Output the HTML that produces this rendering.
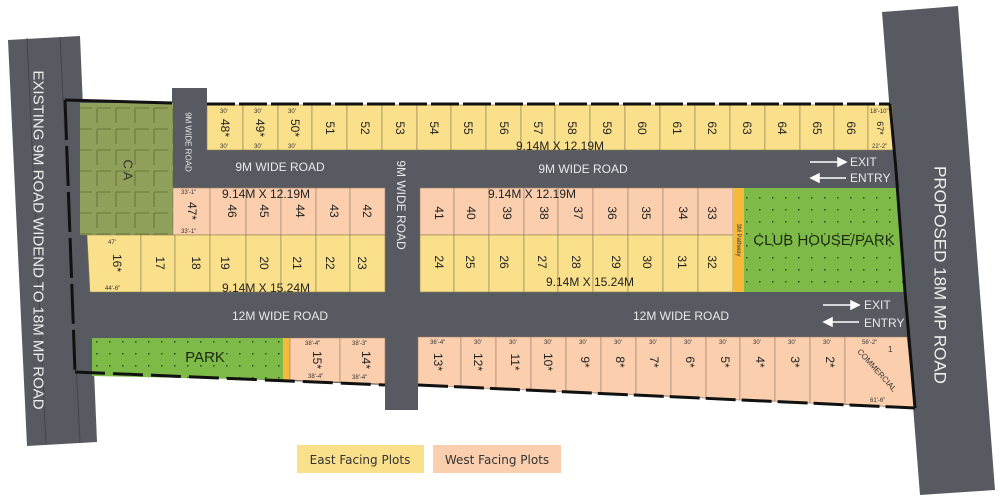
<!DOCTYPE html>
<html><head><meta charset="utf-8"><style>
html,body{margin:0;padding:0;background:#fff;width:1000px;height:500px;overflow:hidden}
svg{display:block}
text{font-family:"Liberation Sans",sans-serif}
.n{font-size:12px;fill:#222}
.r{font-size:12px;fill:#e8e8ea}
.d{font-size:6px;fill:#333}
</style></head><body>
<svg width="1000" height="500" viewBox="0 0 1000 500" xmlns="http://www.w3.org/2000/svg">
<defs>
<pattern id="dots" width="13" height="12" patternUnits="userSpaceOnUse"><rect width="13" height="12" fill="#7dba48"/><rect x="5" y="5" width="1.5" height="1.5" fill="#2f4a1a"/></pattern>
<pattern id="grid" width="19" height="21" patternUnits="userSpaceOnUse"><rect width="19" height="21" fill="#8fa05a"/><path d="M2 3 V18 M2 3 H16" stroke="#6f7f42" stroke-width="1.3" fill="none"/></pattern>
</defs>
<polygon points="8,40 80,36 97,442 27,446" fill="#575b61"/>
<line x1="27" y1="38" x2="46" y2="444" stroke="#3e4146" stroke-width="0.8"/>
<line x1="60" y1="37" x2="80" y2="443" stroke="#3e4146" stroke-width="0.8"/>
<text transform="translate(38,240) rotate(90)" text-anchor="middle" dominant-baseline="central" style="font-size:15px;fill:#eee">EXISTING 9M ROAD WIDEND TO 18M MP ROAD</text>
<polygon points="882,12 958,6 995,490 920,495" fill="#575b61"/>
<text transform="translate(940,275) rotate(90)" text-anchor="middle" dominant-baseline="central" style="font-size:17px;fill:#eee">PROPOSED 18M MP ROAD</text>
<polygon points="63,100 172,103 172,88 207,88 207,105 892,105 915,408 418,385 418,410 385,410 385,385 75,372" fill="#575b61"/>
<rect x="80" y="103" width="93" height="132" fill="url(#grid)"/>
<text x="128" y="170" text-anchor="middle" dominant-baseline="central" transform="rotate(90 128 170)" style="font-size:13px;fill:#333">C A</text>
<g fill="#fbe08c" stroke="#8a7a50" stroke-width="0.6">
<rect x="207" y="105" width="36" height="45"/><rect x="243" y="105" width="35" height="45"/><rect x="278" y="105" width="34" height="45"/><rect x="312" y="105" width="35" height="45"/><rect x="347" y="105" width="35" height="45"/><rect x="382" y="105" width="35" height="45"/><rect x="417" y="105" width="34" height="45"/><rect x="451" y="105" width="35" height="45"/><rect x="486" y="105" width="35" height="45"/><rect x="521" y="105" width="34" height="45"/><rect x="555" y="105" width="35" height="45"/><rect x="590" y="105" width="35" height="45"/><rect x="625" y="105" width="35" height="45"/><rect x="660" y="105" width="35" height="45"/><rect x="695" y="105" width="35" height="45"/><rect x="730" y="105" width="35" height="45"/><rect x="765" y="105" width="35" height="45"/><rect x="800" y="105" width="34" height="45"/><rect x="834" y="105" width="34" height="45"/>
<polygon points="868,105 892,105 895,150 868,150"/>
</g>
<g class="n" text-anchor="middle" dominant-baseline="central">
<text transform="translate(225,128) rotate(90)">48*</text><text transform="translate(260,128) rotate(90)">49*</text><text transform="translate(295,128) rotate(90)">50*</text><text transform="translate(330,128) rotate(90)">51</text><text transform="translate(365,128) rotate(90)">52</text><text transform="translate(400,128) rotate(90)">53</text><text transform="translate(434,128) rotate(90)">54</text><text transform="translate(468,128) rotate(90)">55</text><text transform="translate(504,128) rotate(90)">56</text><text transform="translate(538,128) rotate(90)">57</text><text transform="translate(572,128) rotate(90)">58</text><text transform="translate(607,128) rotate(90)">59</text><text transform="translate(642,128) rotate(90)">60</text><text transform="translate(677,128) rotate(90)">61</text><text transform="translate(712,128) rotate(90)">62</text><text transform="translate(747,128) rotate(90)">63</text><text transform="translate(782,128) rotate(90)">64</text><text transform="translate(817,128) rotate(90)">65</text><text transform="translate(851,128) rotate(90)">66</text><text transform="translate(880,128) rotate(90)" style="font-size:9px">67*</text>
</g>
<text x="560" y="150" text-anchor="middle" style="font-size:12px;fill:#222">9.14M X 12.19M</text>
<g class="d"><text x="220" y="113">30'</text><text x="254" y="113">30'</text><text x="288" y="113">30'</text><text x="220" y="148">30'</text><text x="254" y="148">30'</text><text x="288" y="148">30'</text><text x="870" y="113">18'-10"</text><text x="872" y="148">22'-2"</text></g>
<text x="280" y="171" class="r" text-anchor="middle">9M WIDE ROAD</text>
<text x="583" y="173" class="r" text-anchor="middle">9M WIDE ROAD</text>
<text transform="translate(188,142) rotate(90)" text-anchor="middle" dominant-baseline="central" style="font-size:8px;fill:#e8e8ea">9M WIDE ROAD</text>
<text transform="translate(401,205) rotate(90)" text-anchor="middle" dominant-baseline="central" class="r">9M WIDE ROAD</text>
<text x="280" y="320" class="r" text-anchor="middle">12M WIDE ROAD</text>
<text x="681" y="320" class="r" text-anchor="middle">12M WIDE ROAD</text>
<g stroke="#fff" stroke-width="1.5" fill="#fff">
<line x1="810" y1="162" x2="840" y2="162"/><polygon points="838,158 846,162 838,166"/>
<line x1="817" y1="178" x2="846" y2="178"/><polygon points="819,174 811,178 819,182"/>
<line x1="823" y1="305" x2="853" y2="305"/><polygon points="851,301 859,305 851,309"/>
<line x1="830" y1="322" x2="859" y2="322"/><polygon points="832,318 824,322 832,326"/>
</g>
<g class="r"><text x="850" y="166">EXIT</text><text x="850" y="182">ENTRY</text><text x="864" y="309">EXIT</text><text x="864" y="327">ENTRY</text></g>
<g fill="#fbcfad" stroke="#9a7a66" stroke-width="0.6">
<rect x="173" y="188" width="37" height="47"/><rect x="210" y="188" width="36" height="47"/><rect x="246" y="188" width="35" height="47"/><rect x="281" y="188" width="35" height="47"/><rect x="316" y="188" width="34" height="47"/><rect x="350" y="188" width="35" height="47"/>
</g>
<g fill="#fbe08c" stroke="#8a7a50" stroke-width="0.6">
<polygon points="87,235 141,235 141,292 90,292"/><rect x="141" y="235" width="34" height="57"/><rect x="175" y="235" width="35" height="57"/><rect x="210" y="235" width="36" height="57"/><rect x="246" y="235" width="35" height="57"/><rect x="281" y="235" width="35" height="57"/><rect x="316" y="235" width="34" height="57"/><rect x="350" y="235" width="35" height="57"/>
</g>
<g class="n" text-anchor="middle" dominant-baseline="central">
<text transform="translate(192,211) rotate(90)">47*</text><text transform="translate(232,211) rotate(90)">46</text><text transform="translate(264,211) rotate(90)">45</text><text transform="translate(300,211) rotate(90)">44</text><text transform="translate(334,211) rotate(90)">43</text><text transform="translate(367,211) rotate(90)">42</text>
<text transform="translate(117,263) rotate(90)">16*</text><text transform="translate(160,263) rotate(90)">17</text><text transform="translate(196,263) rotate(90)">18</text><text transform="translate(225,263) rotate(90)">19</text><text transform="translate(264,263) rotate(90)">20</text><text transform="translate(297,263) rotate(90)">21</text><text transform="translate(330,263) rotate(90)">22</text><text transform="translate(362,263) rotate(90)">23</text>
</g>
<text x="266" y="198" text-anchor="middle" style="font-size:12px;fill:#222">9.14M X 12.19M</text>
<text x="266" y="292" text-anchor="middle" style="font-size:12px;fill:#222">9.14M X 15.24M</text>
<g class="d"><text x="181" y="194">33'-1"</text><text x="181" y="233">33'-1"</text><text x="108" y="244">47'</text><text x="105" y="290">44'-6"</text></g>
<g fill="#fbcfad" stroke="#9a7a66" stroke-width="0.6">
<rect x="420" y="188" width="34" height="47"/><rect x="454" y="188" width="35" height="47"/><rect x="489" y="188" width="35" height="47"/><rect x="524" y="188" width="34" height="47"/><rect x="558" y="188" width="35" height="47"/><rect x="593" y="188" width="35" height="47"/><rect x="628" y="188" width="35" height="47"/><rect x="663" y="188" width="35" height="47"/><rect x="698" y="188" width="35" height="47"/>
</g>
<g fill="#fbe08c" stroke="#8a7a50" stroke-width="0.6">
<rect x="420" y="235" width="34" height="57"/><rect x="454" y="235" width="35" height="57"/><rect x="489" y="235" width="35" height="57"/><rect x="524" y="235" width="34" height="57"/><rect x="558" y="235" width="35" height="57"/><rect x="593" y="235" width="35" height="57"/><rect x="628" y="235" width="35" height="57"/><rect x="663" y="235" width="35" height="57"/><rect x="698" y="235" width="35" height="57"/>
</g>
<rect x="733" y="188" width="11" height="104" fill="#f6b93c"/>
<text transform="translate(738,240) rotate(90)" text-anchor="middle" dominant-baseline="central" style="font-size:6px;fill:#333">3M Pathway</text>
<polygon points="744,188 899,188 905,292 744,292" fill="url(#dots)"/>
<text x="824" y="245" text-anchor="middle" style="font-size:15px;fill:#1e2a10">CLUB HOUSE/PARK</text>
<g class="n" text-anchor="middle" dominant-baseline="central">
<text transform="translate(439,213) rotate(90)">41</text><text transform="translate(471,213) rotate(90)">40</text><text transform="translate(507,213) rotate(90)">39</text><text transform="translate(544,213) rotate(90)">38</text><text transform="translate(578,213) rotate(90)">37</text><text transform="translate(612,213) rotate(90)">36</text><text transform="translate(646,213) rotate(90)">35</text><text transform="translate(683,213) rotate(90)">34</text><text transform="translate(712,213) rotate(90)">33</text>
<text transform="translate(439,262) rotate(90)">24</text><text transform="translate(470,262) rotate(90)">25</text><text transform="translate(504,262) rotate(90)">26</text><text transform="translate(542,262) rotate(90)">27</text><text transform="translate(576,262) rotate(90)">28</text><text transform="translate(616,262) rotate(90)">29</text><text transform="translate(647,262) rotate(90)">30</text><text transform="translate(682,262) rotate(90)">31</text><text transform="translate(712,262) rotate(90)">32</text>
</g>
<text x="532" y="198" text-anchor="middle" style="font-size:12px;fill:#222">9.14M X 12.19M</text>
<text x="590" y="286" text-anchor="middle" style="font-size:12px;fill:#222">9.14M X 15.24M</text>
<polygon points="92,338 283,338 283,380 92,376" fill="url(#dots)"/>
<text x="205" y="362" text-anchor="middle" style="font-size:15px;fill:#1e2a10">PARK</text>
<polygon points="283,338 290,338 290,380 283,380" fill="#f6b93c"/>
<g fill="#fbcfad" stroke="#9a7a66" stroke-width="0.6">
<polygon points="290,338 340,338 340,382 290,380"/><polygon points="340,338 385,338 385,384 340,382"/>
</g>
<g class="n" text-anchor="middle" dominant-baseline="central"><text transform="translate(317,360) rotate(90)">15*</text><text transform="translate(366,360) rotate(90)">14*</text></g>
<g class="d"><text x="305" y="345">38'-4"</text><text x="352" y="345">38'-3"</text><text x="308" y="378">38'-4"</text><text x="352" y="379">38'-4"</text></g>
<g fill="#fbcfad" stroke="#9a7a66" stroke-width="0.6">
<polygon points="418,337 461,337 461,387 418,385"/><polygon points="461,337 496,337 496,389 461,387"/><polygon points="496,337 531,337 531,390 496,389"/><polygon points="531,337 566,337 566,392 531,390"/><polygon points="566,337 601,337 601,393 566,392"/><polygon points="601,337 636,337 636,395 601,393"/><polygon points="636,337 671,337 671,396 636,395"/><polygon points="671,337 706,337 706,398 671,396"/><polygon points="706,337 740,337 740,400 706,398"/><polygon points="740,337 775,337 775,401 740,400"/><polygon points="775,337 810,337 810,403 775,401"/><polygon points="810,337 845,337 845,404 810,403"/><polygon points="845,337 907,337 915,408 845,404"/>
</g>
<g class="n" text-anchor="middle" dominant-baseline="central">
<text transform="translate(438,362) rotate(90)">13*</text><text transform="translate(478,362) rotate(90)">12*</text><text transform="translate(515,362) rotate(90)">11*</text><text transform="translate(548,362) rotate(90)">10*</text><text transform="translate(585,362) rotate(90)">9*</text><text transform="translate(620,362) rotate(90)">8*</text><text transform="translate(654,362) rotate(90)">7*</text><text transform="translate(690,362) rotate(90)">6*</text><text transform="translate(725,362) rotate(90)">5*</text><text transform="translate(760,362) rotate(90)">4*</text><text transform="translate(795,362) rotate(90)">3*</text><text transform="translate(830,362) rotate(90)">2*</text>
</g>
<text transform="translate(875,372) rotate(48)" text-anchor="middle" style="font-size:8px;fill:#333">COMMERCIAL</text>
<text x="888" y="352" style="font-size:8px;fill:#333">1</text>
<g class="d"><text x="430" y="344">36'-4"</text><text x="474" y="344">30'</text><text x="509" y="344">30'</text><text x="544" y="344">30'</text><text x="579" y="344">30'</text><text x="614" y="344">30'</text><text x="649" y="344">30'</text><text x="684" y="344">30'</text><text x="719" y="344">30'</text><text x="753" y="344">30'</text><text x="788" y="344">30'</text><text x="823" y="344">30'</text><text x="862" y="344">56'-2"</text><text x="870" y="402">61'-6"</text></g>
<g stroke="#111" stroke-width="3" fill="none">
<polyline points="65,100 172,103"/>
<line x1="207" y1="104" x2="890" y2="104" stroke-dasharray="28,4"/>
<polyline points="890,104 896,170 905,292 915,408"/>
<line x1="65" y1="100" x2="75" y2="372" stroke-dasharray="40,6"/>
<line x1="75" y1="372" x2="385" y2="385" stroke-dasharray="30,8"/>
<line x1="418" y1="385" x2="915" y2="408" stroke-dasharray="30,6"/>
</g>
<rect x="297" y="445" width="127" height="28" fill="#fbe08c"/>
<text x="360" y="464" text-anchor="middle" style="font-family:'DejaVu Sans',sans-serif;font-size:12px;fill:#333">East Facing Plots</text>
<rect x="433" y="445" width="128" height="28" fill="#fbcfad"/>
<text x="497" y="464" text-anchor="middle" style="font-family:'DejaVu Sans',sans-serif;font-size:12px;fill:#333">West Facing Plots</text>
</svg>
</body></html>
